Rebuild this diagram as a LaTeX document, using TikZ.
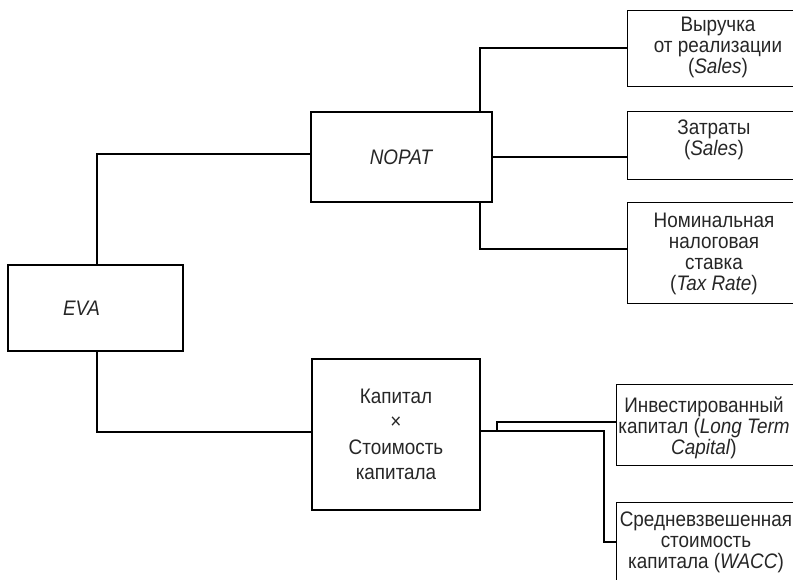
\documentclass[tikz,border=0pt]{standalone}
\usepackage{fontspec}
\setmainfont{Liberation Sans}[FakeStretch=0.9]
\begin{document}
\begin{tikzpicture}[x=1pt,y=-1pt,
  box/.style={draw=black,line width=1.1pt,inner sep=0pt,align=center,
    font=\fontsize{21}{21.5}\selectfont,text=black!85},
  openbox/.style={inner sep=0pt},
  txt/.style={inner sep=0pt,align=center,font=\fontsize{21}{21}\selectfont,text=black!85},
  conn/.style={draw=black,line width=1.1pt}]
\useasboundingbox (0,0) rectangle (793,580);
\clip (0,0) rectangle (793,580);
\node[box,minimum width=175,minimum height=86] (eva) at (95.5,308) {\hspace*{-28pt}\textit{EVA}};
\node[box,minimum width=181,minimum height=90] (nopat) at (401.5,157) {\textit{NOPAT}};
\node[box,minimum width=168,minimum height=151,font=\fontsize{21}{25.5}\selectfont] (cap) at (396,434.5) {Капитал\\×\\Стоимость\\капитала};
\node[openbox,minimum width=212,minimum height=75] (b1) at (734,48.5) {};
\node[openbox,minimum width=212,minimum height=67] (b2) at (734,145.5) {};
\node[openbox,minimum width=212,minimum height=100] (b3) at (734,253) {};
\node[openbox,minimum width=218,minimum height=80] (inv) at (726,425) {};
\node[openbox,minimum width=218,minimum height=78] (wacc) at (726,542) {};
\foreach \b in {b1,b2,b3,inv,wacc}
  \draw[conn] (\b.north east) -- (\b.north west) -- (\b.south west) -- (\b.south east);
\node[txt] (b1t) at (718,47) {Выручка\\от реализации\\(\textit{Sales})};
\node[txt] (b2t) at (714,140) {Затраты\\(\textit{Sales})};
\node[txt] (b3t) at (714,253.5) {Номинальная\\налоговая\\ставка\\(\textit{Tax Rate})};
\node[txt] (invt) at (704,428) {Инвестированный\\капитал (\textit{Long Term}\\\textit{Capital})};
\node[txt] (wacct) at (706,542) {Средневзвешенная\\стоимость\\капитала (\textit{WACC})};
\coordinate (e1) at (97,154);
\coordinate (e2) at (97,432);
\coordinate (n1) at (480,48);
\coordinate (n3) at (480,249);
\coordinate (c1) at (604,431);
\coordinate (c2) at (497,431);
\coordinate (c3) at (497,422);
\draw[conn] (eva.north -| e1) -- (e1) -- (e1 -| nopat.west);
\draw[conn] (eva.south -| e2) -- (e2) -- (e2 -| cap.west);
\draw[conn] (nopat.north -| n1) -- (n1) -- (n1 -| b1.west);
\draw[conn] (nopat.east) -- (nopat.east -| b2.west);
\draw[conn] (nopat.south -| n3) -- (n3) -- (n3 -| b3.west);
\draw[conn] (c1 -| cap.east) -- (c1) |- (wacc.west);
\draw[conn] (c2) -- (c3) -- (c3 -| inv.west);
\end{tikzpicture}
\end{document}
